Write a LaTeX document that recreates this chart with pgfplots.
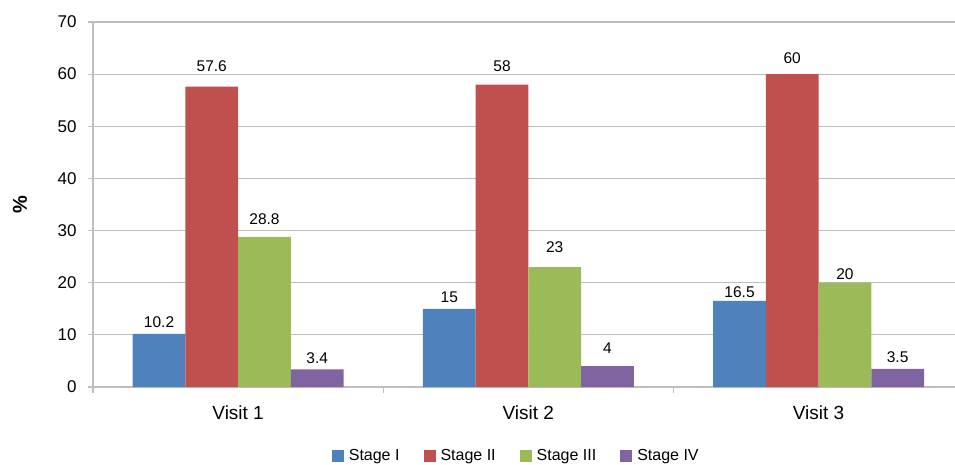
\documentclass[border=0pt]{standalone}
\usepackage{pgfplots}
\pgfplotsset{compat=1.18}
\usepackage{fontspec}
\setmainfont{Liberation Sans}
\definecolor{sblue}{HTML}{4F81BD}
\definecolor{sred}{HTML}{C0504D}
\definecolor{sgreen}{HTML}{9BBB59}
\definecolor{spurple}{HTML}{8064A2}
\definecolor{axgray}{HTML}{BEBEBE}

\begin{document}
\begin{tikzpicture}
\useasboundingbox (-93pt,-77pt) rectangle (862pt,387pt);
\begin{axis}[
    at={(0pt,0pt)}, anchor=south west,
    scale only axis,
    width=862pt, height=365pt,
    xmin=-0.5, xmax=2.47,
    ymin=0, ymax=70,
    ytick={0,10,...,70},
    xtick={0,1,2},
    xticklabels={Visit 1,Visit 2,Visit 3},
    minor xtick={-0.5,0.5,1.5},
    axis x line=bottom, axis y line=left,
    axis line style={-, axgray, line width=1.2pt},
    tick align=outside,
    major tick length=5pt, minor tick length=6pt,
    major x tick style={draw=none},
    minor x tick style={axgray, line width=1.2pt},
    major y tick style={axgray, line width=1.2pt},
    ymajorgrids,
    grid style={axgray, line width=1.2pt},
    /pgf/number format/assume math mode=true,
    yticklabel style={font=\fontsize{17}{20}\selectfont, xshift=-8pt},
    xticklabel style={font=\fontsize{19}{22}\selectfont, yshift=-10pt},
    ylabel={\textbf{\%}},
    every axis y label/.style={at={(axis description cs:-0.0847,0.5)}, rotate=90, anchor=center, font=\fontsize{20}{24}\selectfont},
    ybar=0pt, bar width=52.7pt,
    nodes near coords,
    visualization depends on={value \thisrow{dy} \as \dy},
    every node near coord/.append style={font=\fontsize{15.5}{18}\selectfont, black, yshift=\dy pt},
    point meta=explicit symbolic,
    legend columns=-1,
    legend style={at={(axis description cs:0.491,-0.189)}, anchor=center, draw=none,
        font=\fontsize{16}{19}\selectfont,
        /tikz/every odd column/.append style={column sep=3pt},
        /tikz/every even column/.append style={column sep=22pt}},
    legend image code/.code={\fill[#1] (0pt,-6pt) rectangle (12pt,6pt);},
]
\addplot[fill=sblue, draw=none] table[x=x, y=y, meta=lbl] {
x y lbl dy
0 10.2 10.2 2.6
1 15 15 2.2
2 16.5 16.5 -0.5
};
\addplot[fill=sred, draw=none] table[x=x, y=y, meta=lbl] {
x y lbl dy
0 57.6 57.6 11.1
1 58 58 9.8
2 60 60 6.7
};
\addplot[fill=sgreen, draw=none] table[x=x, y=y, meta=lbl] {
x y lbl dy
0 28.8 28.8 8.5
1 23 23 10.8
2 20 20 0
};
\addplot[fill=spurple, draw=none] table[x=x, y=y, meta=lbl] {
x y lbl dy
0 3.4 3.4 2.5
1 4 4 9.2
2 3.5 3.5 2.5
};
\legend{Stage I,Stage II,Stage III,Stage IV}
\end{axis}
\end{tikzpicture}
\end{document}
